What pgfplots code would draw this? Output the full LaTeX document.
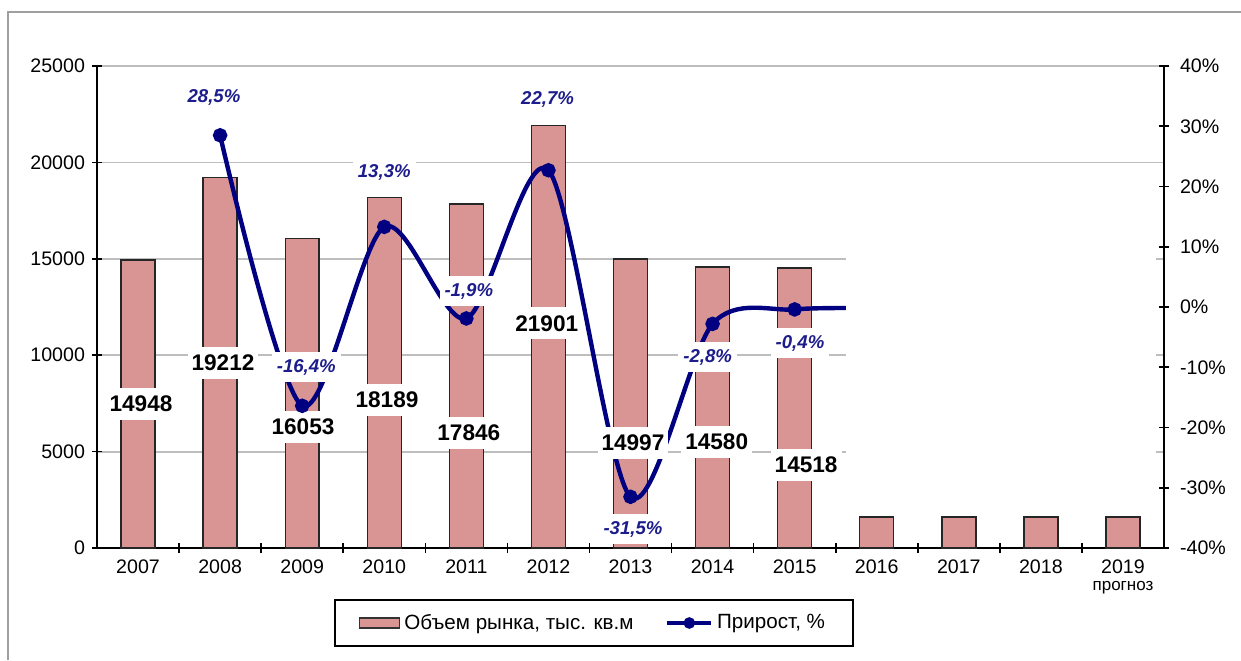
\documentclass[border=0pt]{standalone}
\usepackage{pgfplots}
\pgfplotsset{compat=1.18}
\usepackage{fontspec}
\setmainfont{Liberation Sans}
\definecolor{barpink}{RGB}{217,149,148}
\definecolor{navyline}{RGB}{0,0,128}
\definecolor{labblue}{RGB}{28,28,140}
\definecolor{gridgray}{RGB}{190,190,190}
\begin{document}
\begin{tikzpicture}
\useasboundingbox (0,0) rectangle (620.5pt,330pt);
\draw[gray!75, line width=0.7pt] (4pt,0pt) -- (4pt,324pt) -- (620.5pt,324pt);
% ---------- left axis: bars ----------
\begin{axis}[
  at={(48.5pt,56pt)}, anchor=south west,
  scale only axis, width=533.5pt, height=241pt,
  xmin=-0.5, xmax=12.5, ymin=0, ymax=25000,
  axis x line*=bottom, axis y line*=left,
  axis line style={black, line width=0.8pt},
  xtick={0,...,12},
  xticklabels={2007,2008,2009,2010,2011,2012,2013,2014,2015,2016,2017,2018,{2019\\{\fontsize{8.5}{8}\selectfont прогноз}}},
  minor xtick={0.5,1.5,...,11.5},
  every major x tick/.append style={draw=none},
  ytick={0,5000,10000,15000,20000,25000},
  yticklabels={0,5000,10000,15000,20000,25000},
  scaled y ticks=false,
  tick align=center, major tick length=5pt, minor tick length=5pt,
  tick style={black, line width=0.8pt},
  ymajorgrids, grid style={gridgray, line width=0.9pt},
  xticklabel style={font=\fontsize{9.8}{8.3}\selectfont, align=center},
  yticklabel style={font=\fontsize{9.8}{10}\selectfont},
  clip=false,
]
\addplot[ybar, bar width=0.414, fill=barpink, draw=black!85, line width=0.7pt]
  coordinates {(0,14948) (1,19212) (2,16053) (3,18189) (4,17846) (5,21901) (6,14997) (7,14580) (8,14518) (9,1600) (10,1600) (11,1600) (12,1600)};
\end{axis}
% ---------- right axis: growth line ----------
\begin{axis}[
  at={(48.5pt,56pt)}, anchor=south west,
  scale only axis, width=533.5pt, height=241pt,
  xmin=-0.5, xmax=12.5, ymin=-40, ymax=40,
  axis x line=none, axis y line*=right,
  axis line style={black, line width=0.8pt},
  xtick=\empty,
  ytick={-40,-30,-20,-10,0,10,20,30,40},
  yticklabels={-40\%,-30\%,-20\%,-10\%,0\%,10\%,20\%,30\%,40\%},
  tick align=center, major tick length=5pt,
  tick style={black, line width=0.8pt},
  yticklabel style={font=\fontsize{9.8}{10}\selectfont, xshift=2pt},
  legend columns=2,
  legend style={at={(0.4658,-0.1556)}, anchor=center, draw=black, line width=0.8pt,
    font=\fontsize{10.3}{12}\selectfont, inner xsep=12pt, inner ysep=5pt,
    /tikz/every even column/.append style={column sep=14pt}},
  legend cell align=left,
]
\addlegendimage{legend image code/.code={\draw[fill=barpink,draw=black!80,line width=0.7pt] (0pt,-2.5pt) rectangle (20pt,2.5pt);}}
\addlegendimage{legend image code/.code={\draw[navyline,line width=1.8pt] (0pt,0pt) -- (22pt,0pt); \fill[navyline] (11pt,0pt) circle (2.5pt);}}
\addplot[navyline, line width=2.2pt, smooth, mark=*, mark size=2.5pt, mark indices={1,2,3,4,5,6,7,8}, forget plot]
  coordinates {(1,28.5) (2,-16.4) (3,13.3) (4,-1.9) (5,22.7) (6,-31.5) (7,-2.8) (8,-0.4) (9,-0.2)};
\fill[white] (axis cs:8.625,-33.7) rectangle (axis cs:12.40,17.8);
% bar value labels
\begin{scope}[every node/.style={fill=white, inner xsep=2pt, inner ysep=4pt, font=\fontsize{11.3}{12}\selectfont\bfseries, text=black}]
\node at (axis cs:0.036,-16.1) {14948};
\node at (axis cs:1.035,-9.3) {19212};
\node at (axis cs:2.01,-19.9) {16053};
\node at (axis cs:3.033,-15.4) {18189};
\node at (axis cs:4.03,-20.9) {17846};
\node at (axis cs:4.98,-2.7) {21901};
\node at (axis cs:6.03,-22.6) {14997};
\node at (axis cs:7.05,-22.4) {14580};
\node at (axis cs:8.14,-26.2) {14518};
\end{scope}
% growth labels
\begin{scope}[every node/.style={fill=white, inner xsep=2.5pt, inner ysep=3.5pt, font=\fontsize{9.3}{10}\selectfont\bfseries\itshape, text=labblue}]
\node at (axis cs:0.925,34.85) {28,5\%};
\node at (axis cs:3.0,22.4) {13,3\%};
\node at (axis cs:4.99,34.4) {22,7\%};
\node at (axis cs:2.05,-10.0) {-16,4\%};
\node at (axis cs:4.03,2.65) {-1,9\%};
\node at (axis cs:6.94,-8.3) {-2,8\%};
\node at (axis cs:8.065,-6.0) {-0,4\%};
\node at (axis cs:6.03,-36.85) {-31,5\%};
\end{scope}
\legend{{Объем рынка, тыс. кв.м}, {Прирост, \%}}
\end{axis}
\end{tikzpicture}
\end{document}
